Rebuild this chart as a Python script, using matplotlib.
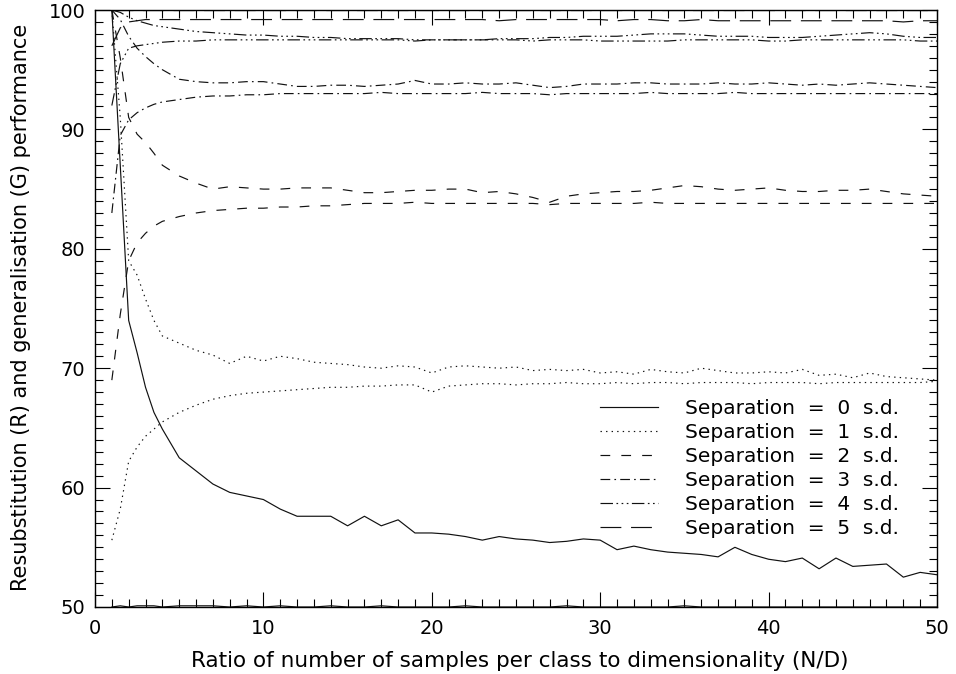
"""

    perf_vs_ratio.py

    Resubstitution (R) and generalisation (G) performance against N/D
    for six class separations

"""

import matplotlib
matplotlib.use('Agg')
from matplotlib import pyplot as plt
from matplotlib.ticker import MultipleLocator

plt.rcParams['font.family'] = ['DejaVu Sans']
plt.rcParams['lines.scale_dashes'] = False

# ratio of samples per class to dimensionality
x = [1, 1.5, 2, 2.5, 3, 3.5, 4] + list(range(5, 51))

# resubstitution curves (fall from 100)
r0 = [100, 87, 74, 71.3, 68.4, 66.3, 64.9,
      62.5, 61.4, 60.3, 59.6, 59.3, 59.0,
      58.2, 57.6, 57.6, 57.6, 56.8, 57.6, 56.8, 57.3, 56.2, 56.2,
      56.1, 55.9, 55.6, 55.9, 55.7, 55.6, 55.4, 55.5, 55.7, 55.6,
      54.8, 55.1, 54.8, 54.6, 54.5, 54.4, 54.2, 55.0, 54.4, 54.0,
      53.8, 54.1, 53.2, 54.1, 53.4, 53.5, 53.6, 52.5, 52.9, 52.7]
r1 = [100, 91, 79, 77.8, 75.8, 74.0, 72.7,
      72.1, 71.5, 71.1, 70.4, 71.0, 70.6,
      71.0, 70.8, 70.5, 70.4, 70.3, 70.1, 70.0, 70.2, 70.1, 69.6,
      70.1, 70.2, 70.1, 70.0, 70.1, 69.8, 69.9, 69.8, 69.9, 69.6,
      69.7, 69.5, 69.9, 69.7, 69.6, 70.0, 69.8, 69.6, 69.6, 69.7,
      69.6, 69.9, 69.4, 69.5, 69.2, 69.6, 69.3, 69.2, 69.1, 69.0]
r2 = [100, 96, 91.0, 89.6, 88.9, 88.0, 87.0,
      86.1, 85.5, 85.0, 85.2, 85.1, 85.0,
      85.0, 85.1, 85.1, 85.1, 84.9, 84.7, 84.7, 84.8, 84.9, 84.9,
      85.0, 85.0, 84.7, 84.8, 84.6, 84.3, 83.9, 84.4, 84.6, 84.7,
      84.8, 84.8, 84.9, 85.1, 85.3, 85.2, 85.0, 84.9, 85.0, 85.1,
      84.9, 84.8, 84.8, 84.9, 84.9, 85.0, 84.8, 84.6, 84.5, 84.4]
r3 = [100, 99.2, 97.8, 96.8, 96.1, 95.5, 95.0,
      94.2, 94.0, 93.9, 93.9, 94.0, 94.0,
      93.8, 93.6, 93.6, 93.7, 93.7, 93.6, 93.7, 93.8, 94.1, 93.8,
      93.8, 93.9, 93.8, 93.8, 93.9, 93.7, 93.5, 93.6, 93.8, 93.8,
      93.8, 93.9, 93.9, 93.8, 93.8, 93.8, 93.9, 93.8, 93.8, 93.9,
      93.8, 93.7, 93.8, 93.7, 93.8, 93.9, 93.8, 93.7, 93.6, 93.5]
r4 = [100, 99.8, 99.4, 99.1, 98.9, 98.7, 98.6,
      98.4, 98.2, 98.1, 98.0, 97.9, 97.9,
      97.8, 97.8, 97.7, 97.7, 97.6, 97.6, 97.6, 97.6, 97.5, 97.5,
      97.5, 97.5, 97.5, 97.6, 97.6, 97.6, 97.7, 97.7, 97.8, 97.8,
      97.8, 97.9, 98.0, 98.0, 98.0, 97.9, 97.8, 97.8, 97.8, 97.7,
      97.7, 97.7, 97.8, 97.9, 98.0, 98.1, 98.0, 97.8, 97.7, 97.7]
r5 = [100] * 53

# generalisation curves (rise towards the asymptote)
g0 = [50.0, 50.1, 50.0, 50.1, 50.1, 50.1, 50.0,
      50.1, 50.1, 50.1, 50.0, 50.1, 50.0,
      50.1, 50.0, 50.0, 50.1, 50.0, 50.0, 50.1, 50.0, 50.0, 50.0,
      50.0, 50.1, 50.0, 50.0, 50.0, 50.0, 50.0, 50.1, 50.0, 50.0,
      50.0, 50.0, 50.0, 50.0, 50.1, 50.0, 50.0, 50.0, 50.0, 50.0,
      50.0, 50.0, 50.0, 50.0, 50.0, 50.0, 50.0, 50.0, 50.0, 50.0]
g1 = [55.6, 58.2, 62.2, 63.4, 64.3, 64.9, 65.5,
      66.3, 66.9, 67.4, 67.7, 67.9, 68.0,
      68.1, 68.2, 68.3, 68.4, 68.4, 68.5, 68.5, 68.6, 68.6, 68.0,
      68.5, 68.6, 68.7, 68.7, 68.6, 68.7, 68.7, 68.8, 68.7, 68.7,
      68.8, 68.7, 68.8, 68.8, 68.7, 68.8, 68.8, 68.8, 68.7, 68.8,
      68.8, 68.8, 68.7, 68.8, 68.8, 68.8, 68.8, 68.8, 68.8, 68.9]
g2 = [69.0, 74.5, 79.0, 80.5, 81.3, 81.9, 82.3,
      82.7, 83.0, 83.2, 83.3, 83.4, 83.4,
      83.5, 83.5, 83.6, 83.6, 83.7, 83.8, 83.8, 83.8, 83.9, 83.8,
      83.8, 83.8, 83.8, 83.8, 83.8, 83.8, 83.7, 83.8, 83.8, 83.8,
      83.8, 83.8, 83.9, 83.8, 83.8, 83.8, 83.8, 83.8, 83.8, 83.8,
      83.8, 83.8, 83.8, 83.8, 83.8, 83.8, 83.8, 83.8, 83.8, 83.8]
g3 = [83.0, 89.5, 90.8, 91.4, 91.8, 92.1, 92.3,
      92.5, 92.7, 92.8, 92.8, 92.9, 92.9,
      93.0, 93.0, 93.0, 93.0, 93.0, 93.0, 93.1, 93.0, 93.0, 93.0,
      93.0, 93.0, 93.1, 93.0, 93.0, 93.0, 92.9, 93.0, 93.0, 93.0,
      93.0, 93.0, 93.1, 93.0, 93.0, 93.0, 93.0, 93.1, 93.0, 93.0,
      93.0, 93.0, 93.0, 93.0, 93.0, 93.0, 93.0, 93.0, 93.0, 93.0]
g4 = [92.0, 95.5, 96.8, 97.0, 97.1, 97.2, 97.3,
      97.4, 97.4, 97.5, 97.5, 97.5, 97.5,
      97.5, 97.5, 97.5, 97.5, 97.5, 97.5, 97.5, 97.5, 97.4, 97.5,
      97.5, 97.5, 97.5, 97.5, 97.5, 97.4, 97.5, 97.5, 97.5, 97.4,
      97.4, 97.4, 97.4, 97.4, 97.5, 97.5, 97.5, 97.5, 97.5, 97.4,
      97.4, 97.5, 97.5, 97.5, 97.5, 97.5, 97.5, 97.5, 97.4, 97.4]
g5 = [97.0, 98.5, 99.0, 99.1, 99.2, 99.2, 99.2,
      99.2, 99.2, 99.2, 99.2, 99.2, 99.2,
      99.2, 99.2, 99.2, 99.2, 99.2, 99.2, 99.2, 99.2, 99.2, 99.2,
      99.2, 99.2, 99.2, 99.1, 99.2, 99.2, 99.2, 99.2, 99.2, 99.2,
      99.1, 99.2, 99.2, 99.1, 99.1, 99.2, 99.1, 99.1, 99.1, 99.1,
      99.1, 99.1, 99.1, 99.1, 99.1, 99.1, 99.1, 99.0, 99.1, 99.1]

R = [r0, r1, r2, r3, r4, r5]
G = [g0, g1, g2, g3, g4, g5]
labels = ['Separation  =  %d  s.d.' % i for i in range(6)]

# IDL-like line styles 0..5
dashes = [None, (1, 3), (7, 8), (7, 3, 1.2, 3), (9, 2.5, 1.2, 2.5, 1.2, 2.5, 1.2, 2.5), (15, 7)]

fig = plt.figure(figsize=(9.56, 6.74), dpi=100)
ax = fig.add_axes([95/956, 67/674, 842/956, 597/674])

for r, g, d, lab in zip(R, G, dashes, labels):
    kw = dict(color='#111111', lw=0.85)
    if d is not None:
        kw['dashes'] = d
    ax.plot(x, r, label=lab, **kw)
    ax.plot(x, g, **kw)

ax.set_xlim(0, 50)
ax.set_ylim(50, 100)
ax.xaxis.set_major_locator(MultipleLocator(10))
ax.xaxis.set_minor_locator(MultipleLocator(1))
ax.yaxis.set_major_locator(MultipleLocator(10))
ax.yaxis.set_minor_locator(MultipleLocator(1))
ax.tick_params(which='both', direction='in', top=True, right=True,
               width=0.8, labelsize=14)
ax.tick_params(which='major', length=10.5, pad=9)
ax.tick_params(which='minor', length=5.5)
ax.tick_params(axis='y', which='major', pad=7)
for s in ax.spines.values():
    s.set_linewidth(1.0)

ax.set_xlabel('Ratio of number of samples per class to dimensionality (N/D)', fontsize=15.5)
ax.set_ylabel('Resubstitution (R) and generalisation (G) performance', fontsize=15)
ax.xaxis.set_label_coords(0.504, -0.074)
ax.yaxis.set_label_coords(-0.076, 0.502)

ax.legend(loc='upper left', bbox_to_anchor=(0.60, 0.348), frameon=False,
          fontsize=14.5, handlelength=2.88, handletextpad=1.34,
          labelspacing=0.25, borderpad=0, borderaxespad=0)

fig.savefig('out.png', dpi=100)
